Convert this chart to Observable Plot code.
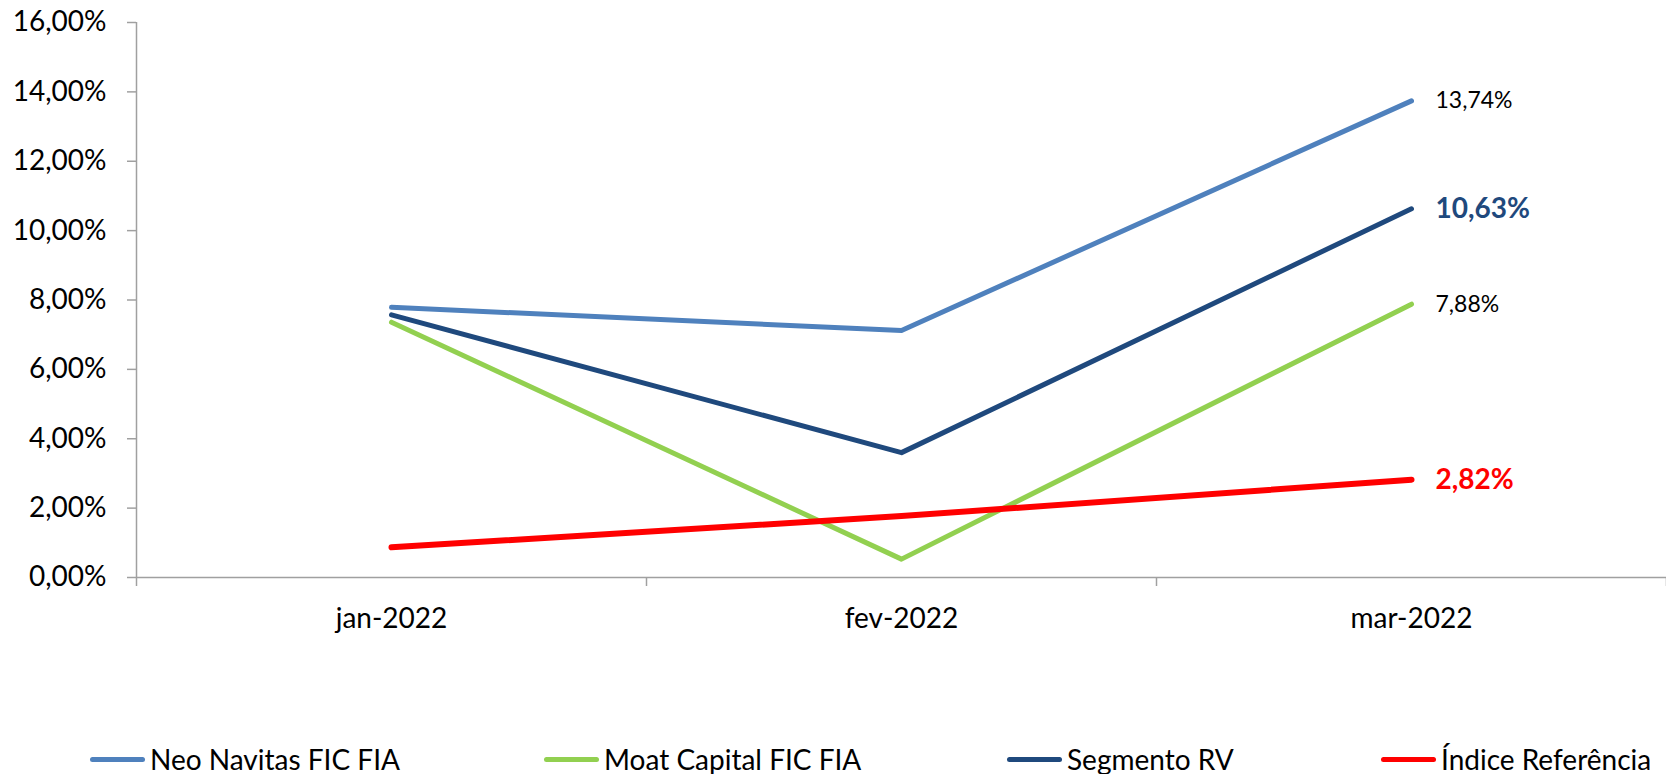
<!DOCTYPE html>
<html>
<head>
<meta charset="utf-8">
<script src="https://cdn.jsdelivr.net/npm/d3@7"></script>
<script src="https://cdn.jsdelivr.net/npm/@observablehq/plot@0.6"></script>
<style>
  html, body { margin: 0; padding: 0; background: #fff; width: 1666px; height: 774px; overflow: hidden; }
  #chart svg { display: block; }
  #legend { position: relative; width: 1666px; height: 74px; font-family: Lato, "Open Sans", sans-serif; font-size: 28px; color: #000; }
  .item { position: absolute; top: 42px; height: 34px; display: flex; align-items: center; white-space: nowrap; line-height: 34px; }
  .sw { display: inline-block; width: 55px; height: 5px; border-radius: 3px; margin-right: 5px; }
</style>
</head>
<body>
<div id="chart"></div>
<div id="legend"></div>
<script>
// ---- data ----
const months = ["jan-2022", "fev-2022", "mar-2022"];
const seriesNames = ["Neo Navitas FIC FIA", "Moat Capital FIC FIA", "Segmento RV", "Índice Referência"];
const neoNavitas = [7.79, 7.12, 13.74];
const moatCapital = [7.36, 0.53, 7.88];
const segmentoRV = [7.57, 3.60, 10.63];
const indiceReferencia = [0.87, 1.77, 2.82];
const yTicks = [0, 2, 4, 6, 8, 10, 12, 14, 16];
const seriesColors = ["#4F81BD", "#92D050", "#1F497D", "#FF0000"];

// ---- styles ----
const seriesValues = [neoNavitas, moatCapital, segmentoRV, indiceReferencia];
const lineWidths = [5, 5, 5, 6];
const labelColors = ["#000000", "#000000", "#1F497D", "#FF0000"];
const labelWeights = ["normal", "normal", "bold", "bold"];
const labelSizes = [23, 23, 28, 28];
const axisColor = "#A0A0A0";
const fmt = v => v.toFixed(2).replace(".", ",") + "%";

const series = seriesNames.map((name, k) => ({
  name,
  color: seriesColors[k],
  width: lineWidths[k],
  rows: seriesValues[k].map((v, i) => ({i, value: v}))
}));

const bandEdges = d3.range(months.length + 1).map(i => i - 0.5);
const centers = d3.range(months.length);

const marks = [
  Plot.ruleY([0], {stroke: axisColor, strokeWidth: 1.5}),
  Plot.ruleX([-0.5], {y1: 0, y2: 16, stroke: axisColor, strokeWidth: 1.5}),
  Plot.axisY({ticks: yTicks, tickSize: 9, tickPadding: 21, tickFormat: fmt, stroke: axisColor, strokeWidth: 1.5, fill: "#000", label: null}),
  Plot.axisX({ticks: bandEdges, tickSize: 9, tickFormat: () => "", stroke: axisColor, strokeWidth: 1.5, label: null}),
  Plot.axisX({ticks: centers, tickSize: 0, tickPadding: 31, tickFormat: i => months[i], fill: "#000", label: null}),
  ...series.map(s => Plot.line(s.rows, {x: "i", y: "value", stroke: s.color, strokeWidth: s.width, strokeLinecap: "round", strokeLinejoin: "round"})),
  ...series.map((s, k) => Plot.text([s.rows[s.rows.length - 1]], {
    x: "i", y: "value", text: d => fmt(d.value), dx: 24, textAnchor: "start",
    fill: labelColors[k], fontWeight: labelWeights[k], fontSize: labelSizes[k]
  }))
];

const chart = Plot.plot({
  width: 1666,
  height: 700,
  marginLeft: 136,
  marginRight: 0,
  marginTop: 22,
  marginBottom: 123,
  style: {fontFamily: "Lato, 'Open Sans', sans-serif", fontSize: "28px", color: "#000", background: "#fff", overflow: "visible"},
  x: {type: "linear", domain: [-0.5, months.length - 0.5], label: null},
  y: {domain: [0, 16], label: null},
  marks
});
document.getElementById("chart").appendChild(chart);

// ---- legend ----
const legendLefts = [90, 544, 1007, 1381];
const legend = document.getElementById("legend");
series.forEach((s, k) => {
  const item = document.createElement("div");
  item.className = "item";
  item.style.left = legendLefts[k] + "px";
  const sw = document.createElement("span");
  sw.className = "sw";
  sw.style.background = s.color;
  const tx = document.createElement("span");
  tx.textContent = s.name;
  item.appendChild(sw);
  item.appendChild(tx);
  legend.appendChild(item);
});
</script>
</body>
</html>
